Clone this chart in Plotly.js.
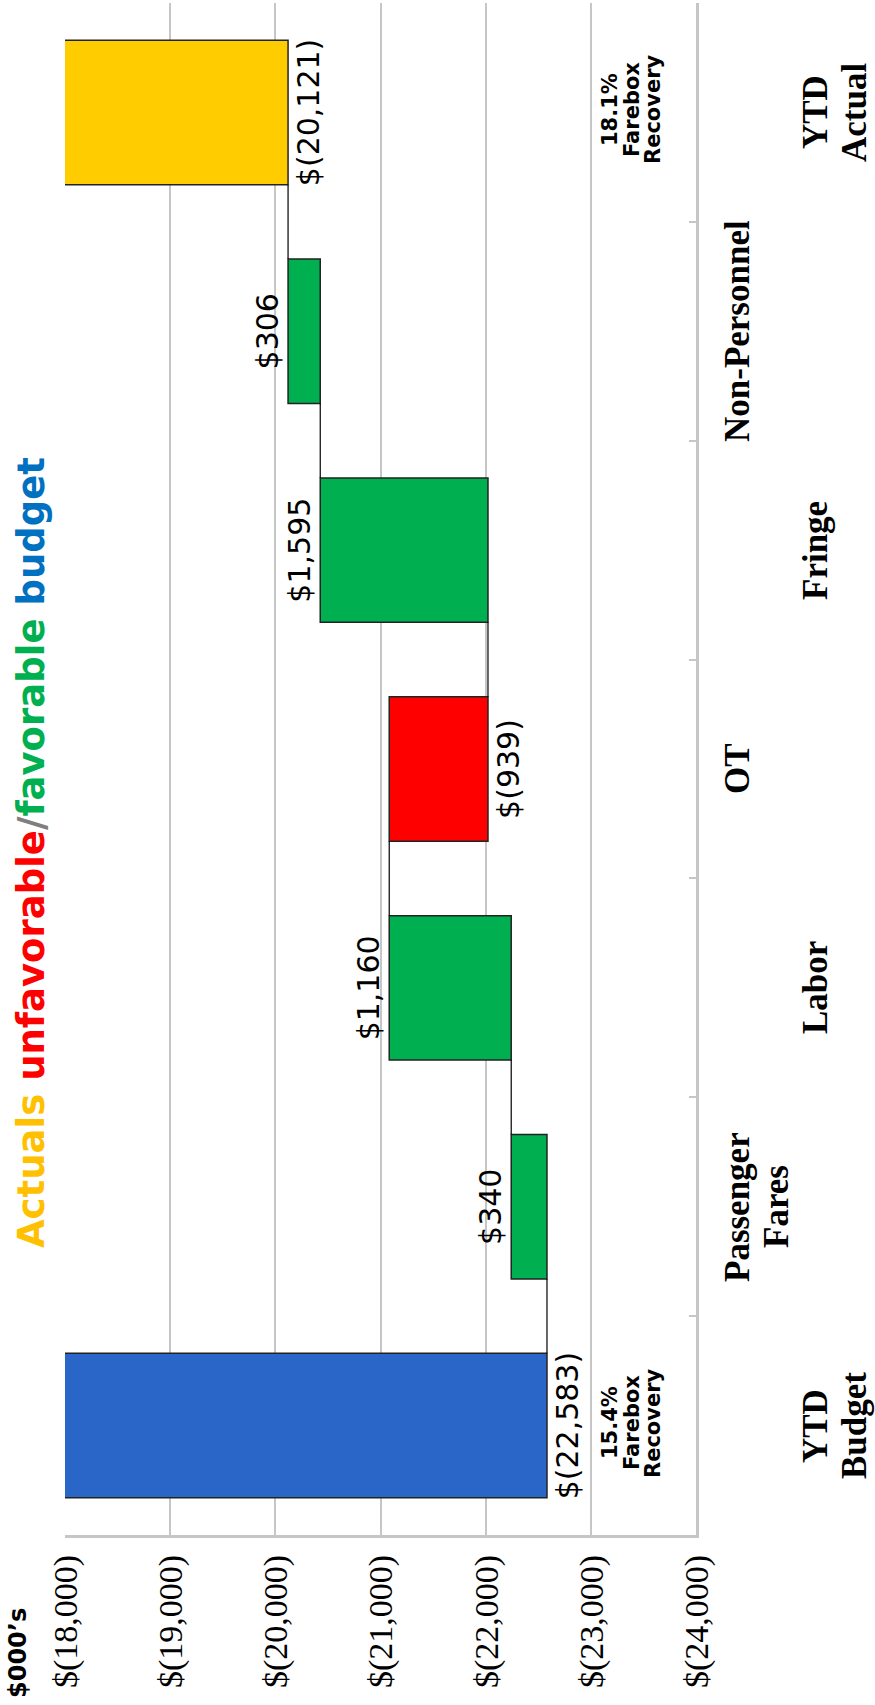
<!DOCTYPE html>
<html>
<head>
<meta charset="utf-8">
<script src="https://cdn.plot.ly/plotly-3.0.1.min.js"></script>
<style>
html, body { margin:0; padding:0; width:875px; height:1705px; overflow:hidden; background:#ffffff; }
#wrap { position:absolute; left:0; top:0; width:1705px; height:875px; transform-origin:0 0; transform:translate(0px,1705px) rotate(-90deg); }
#chart { width:1705px; height:875px; }
</style>
</head>
<body>
<div id="wrap"><div id="chart"></div></div>
<script>
// ---- data ----
const categories = ['YTD Budget', 'Passenger Fares', 'Labor', 'OT', 'Fringe', 'Non-Personnel', 'YTD Actual'];
const values = [-22583, 340, 1160, -939, 1595, 306, -20121];
const measures = ['total', 'relative', 'relative', 'relative', 'relative', 'relative', 'total'];
const categoryLabelLines = [['YTD', 'Budget'], ['Passenger', 'Fares'], ['Labor'], ['OT'], ['Fringe'], ['Non-Personnel'], ['YTD', 'Actual']];
const valueTicks = [-18000, -19000, -20000, -21000, -22000, -23000, -24000];
const valueTickText = ['$(18,000)', '$(19,000)', '$(20,000)', '$(21,000)', '$(22,000)', '$(23,000)', '$(24,000)'];
const fareboxCategories = ['YTD Budget', 'YTD Actual'];
const fareboxRecovery = ['15.4%', '18.1%'];
const fareboxNoteLines = ['Farebox', 'Recovery'];
const unitsLabel = '$000\u2019s';

// ---- styles ----
const COL_BUDGET = '#2A66C8', COL_ACTUAL = '#FFCC00', COL_UP = '#00B050', COL_DOWN = '#FF0000';
const GRID = '#C6C6C6';
const BAR_W = 0.66;

function fmt(v) {
  const s = Math.abs(v).toLocaleString('en-US');
  return v < 0 ? '$(' + s + ')' : '$' + s;
}

// waterfall geometry computed from data
const bases = [], ends = [], colors = [];
let running = 0;
values.forEach((v, i) => {
  if (measures[i] === 'total') {
    bases.push(0); ends.push(v); running = v;
    colors.push(i === 0 ? COL_BUDGET : COL_ACTUAL);
  } else {
    bases.push(running); running += v; ends.push(running);
    colors.push(v >= 0 ? COL_UP : COL_DOWN);
  }
});

const trace = {
  type: 'bar',
  x: categories,
  y: values,
  base: bases,
  marker: { color: colors, line: { color: '#222222', width: 1.5 } },
  text: values.map(fmt),
  textposition: 'outside',
  constraintext: 'none',
  cliponaxis: false,
  textangle: 0,
  textfont: { family: 'DejaVu Sans', size: 30, color: '#000000' },
  hoverinfo: 'none',
  showlegend: false
};

// connectors between consecutive bars
const shapes = [];
for (let i = 0; i < values.length - 1; i++) {
  shapes.push({
    type: 'line', xref: 'x', yref: 'y',
    x0: i + BAR_W / 2, x1: i + 1 - BAR_W / 2,
    y0: ends[i], y1: ends[i],
    line: { color: '#000000', width: 1.2 }
  });
}

const annotations = [];
// category labels (staggered rows)
const ROW0 = -41, ROW_STEP = 39.3;
categoryLabelLines.forEach((lines, i) => {
  const startRow = (i % 2 === 0) ? 2 : 0;
  lines.forEach((ln, j) => {
    annotations.push({
      x: categories[i], xref: 'x', y: 0, yref: 'paper',
      yanchor: 'middle', xanchor: 'center', borderpad: 0,
      yshift: ROW0 - ROW_STEP * (startRow + j),
      text: ln, showarrow: false,
      font: { family: 'Liberation Serif', size: 35, color: '#000000', weight: 'bold' }
    });
  });
});
// farebox recovery notes
const NOTE_SHIFTS = [86, 64.5, 43];
fareboxCategories.forEach((c, k) => {
  [fareboxRecovery[k]].concat(fareboxNoteLines).forEach((ln, j) => {
    annotations.push({
      x: c, xref: 'x', y: 0, yref: 'paper', yanchor: 'middle', xanchor: 'center',
      yshift: NOTE_SHIFTS[j], xshift: 3, borderpad: 0,
      text: ln, showarrow: false,
      font: { family: 'DejaVu Sans', size: 21, color: '#000000', weight: 'bold' }
    });
  });
});
// units label
annotations.push({
  x: 0, xref: 'paper', y: 1, yref: 'paper', xanchor: 'left', yanchor: 'top',
  xshift: -164, yshift: 62, borderpad: 0,
  text: unitsLabel, showarrow: false,
  font: { family: 'DejaVu Sans', size: 24, color: '#000000', weight: 'bold' }
});

const layout = {
  width: 1705, height: 875,
  margin: { l: 170, r: 3, t: 65, b: 179 },
  paper_bgcolor: '#ffffff', plot_bgcolor: '#ffffff',
  bargap: 1 - BAR_W,
  title: {
    text: '<span style="color:#FFC000">Actuals</span> <span style="color:#FF0000">unfavorable</span><span style="color:#7F7F7F">/</span><span style="color:#00B050">favorable</span> <span style="color:#0070C0">budget</span>',
    x: 0.5, xanchor: 'center', y: 0.9794, yanchor: 'top',
    font: { family: 'DejaVu Sans', size: 37, weight: 'bold' }
  },
  xaxis: {
    type: 'category',
    tickson: 'boundaries',
    ticks: 'inside', ticklen: 7, tickwidth: 2, tickcolor: GRID,
    showticklabels: false,
    showgrid: false,
    showline: true, linecolor: GRID, linewidth: 3,
    zeroline: false,
    fixedrange: true
  },
  yaxis: {
    range: [-24000, -18000],
    tickvals: valueTicks, ticktext: valueTickText,
    ticks: '',
    ticklabelstandoff: 10,
    tickfont: { family: 'Liberation Serif', size: 34, color: '#000000' },
    showgrid: true, gridcolor: GRID, gridwidth: 2,
    showline: true, linecolor: GRID, linewidth: 3,
    zeroline: false,
    fixedrange: true
  },
  shapes: shapes,
  annotations: annotations
};

Plotly.newPlot('chart', [trace], layout, { displayModeBar: false, staticPlot: true });
</script>
</body>
</html>
